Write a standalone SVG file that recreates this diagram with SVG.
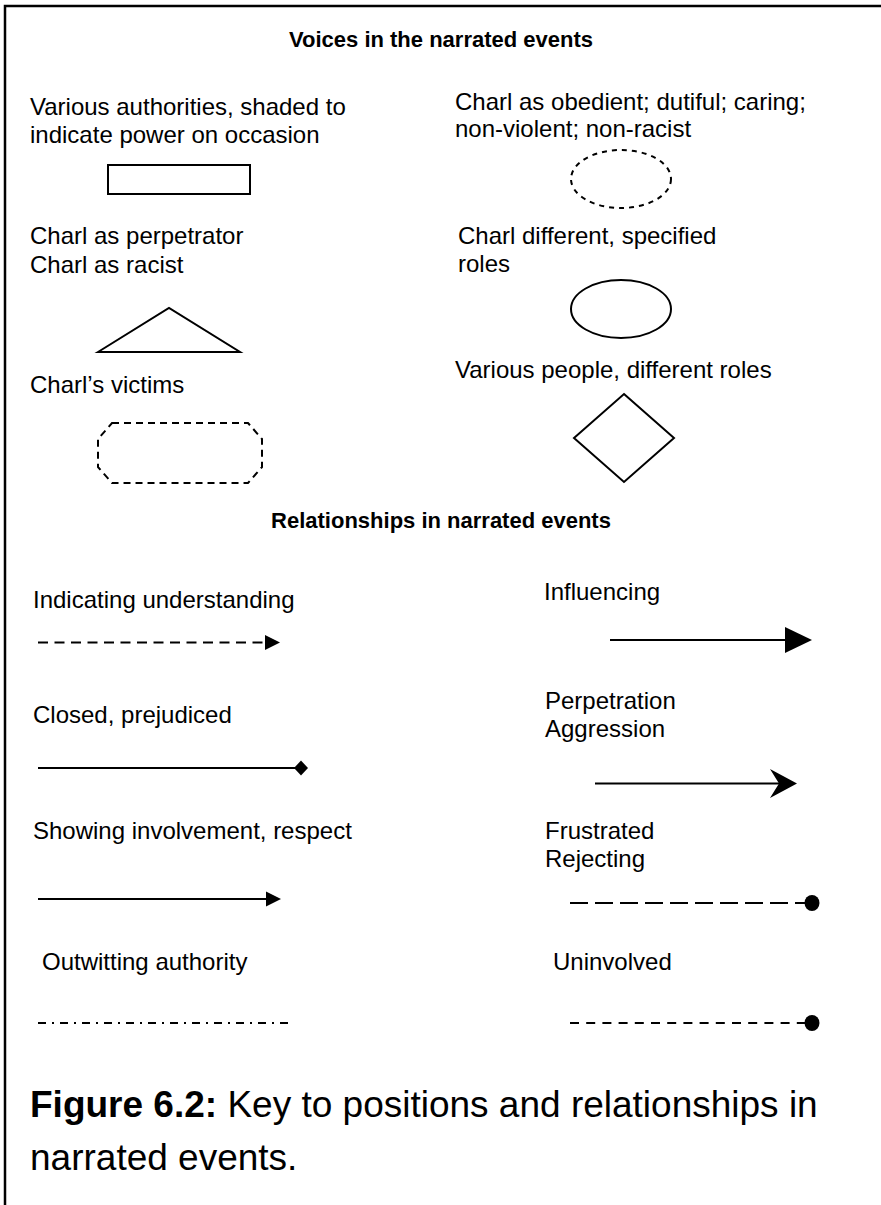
<svg xmlns="http://www.w3.org/2000/svg" width="881" height="1205" viewBox="0 0 881 1205">
<style>
text{font-family:"Liberation Sans",Arial,sans-serif;fill:#000}
.lbl{font-size:24px}
.hd{font-size:22px;font-weight:bold;text-anchor:middle}
.cap{font-size:37px}
.shape{fill:#fff;stroke:#000;stroke-width:2}
.ln{fill:none;stroke:#000;stroke-width:2.2}
</style>
<rect width="881" height="1205" fill="#fff"/>
<g id="frame">
<path d="M5,1205 V6 H881" fill="none" stroke="#000" stroke-width="2.5"/>
</g>
<g id="voices">
<text class="hd" x="441" y="47">Voices in the narrated events</text>
</g>
<g id="node-authorities">
<text class="lbl" x="30" y="115">Various authorities, shaded to</text>
<text class="lbl" x="30" y="143">indicate power on occasion</text>
<rect class="shape" x="108" y="165" width="142" height="29"/>
</g>
<g id="node-obedient">
<text class="lbl" x="455" y="110">Charl as obedient; dutiful; caring;</text>
<text class="lbl" x="455" y="137">non-violent; non-racist</text>
<ellipse class="shape" cx="621" cy="179" rx="50" ry="29" stroke-dasharray="5 5"/>
</g>
<g id="node-perpetrator">
<text class="lbl" x="30" y="244">Charl as perpetrator</text>
<text class="lbl" x="30" y="273">Charl as racist</text>
<polygon class="shape" points="98,352 169,308 240,352"/>
</g>
<g id="node-roles">
<text class="lbl" x="458" y="244">Charl different, specified</text>
<text class="lbl" x="458" y="272">roles</text>
<ellipse class="shape" cx="621" cy="309" rx="50" ry="29"/>
</g>
<g id="node-victims">
<text class="lbl" x="30" y="393">Charl’s victims</text>
<polygon class="shape" points="112,423 248,423 262,439 262,467 248,483 112,483 98,467 98,439" stroke-dasharray="7 5"/>
</g>
<g id="node-people">
<text class="lbl" x="455" y="378">Various people, different roles</text>
<polygon class="shape" points="624,394 674,438 624,482 574,438"/>
</g>
<g id="relationships">
<text class="hd" x="441" y="528">Relationships in narrated events</text>
</g>
<g id="labels">
<text class="lbl" x="33" y="608">Indicating understanding</text>
<text class="lbl" x="544" y="600">Influencing</text>
<text class="lbl" x="33" y="723">Closed, prejudiced</text>
<text class="lbl" x="545" y="709">Perpetration</text>
<text class="lbl" x="545" y="737">Aggression</text>
<text class="lbl" x="33" y="839">Showing involvement, respect</text>
<text class="lbl" x="545" y="839">Frustrated</text>
<text class="lbl" x="545" y="867">Rejecting</text>
<text class="lbl" x="42" y="970">Outwitting authority</text>
<text class="lbl" x="553" y="970">Uninvolved</text>
</g>
<g id="connectors">
<line class="ln" x1="38" y1="642.5" x2="265" y2="642.5" stroke-dasharray="10 6.5"/>
<polygon points="265,635 280,642.5 265,650" fill="#000"/>
<line class="ln" x1="610" y1="640" x2="787" y2="640" stroke-width="2.5"/>
<polygon points="785,627 812,640 785,653" fill="#000"/>
<line class="ln" x1="38" y1="768" x2="296" y2="768"/>
<polygon points="301,760.5 308,768 301,775.5 294,768" fill="#000"/>
<line class="ln" x1="595" y1="783.5" x2="788" y2="783.5" stroke-width="6"/>
<polygon points="770,769 797,783.5 770,798 779,783.5" fill="#000"/>
<line class="ln" x1="38" y1="899" x2="267" y2="899"/>
<polygon points="266,891.5 281,899 266,906.5" fill="#000"/>
<line class="ln" x1="570" y1="903" x2="805" y2="903" stroke-width="3" stroke-dasharray="18 7"/>
<ellipse cx="812" cy="903" rx="7.5" ry="8" fill="#000"/>
<line class="ln" x1="38" y1="1023" x2="288" y2="1023" stroke-dasharray="8 6 2 6"/>
<line class="ln" x1="570" y1="1023" x2="805" y2="1023" stroke-width="2.5" stroke-dasharray="9 7.2"/>
<ellipse cx="812" cy="1023" rx="7.5" ry="8" fill="#000"/>
</g>
<g id="caption">
<text class="cap" x="30" y="1117"><tspan font-weight="bold">Figure 6.2:</tspan> Key to positions and relationships in</text>
<text class="cap" x="30" y="1170">narrated events.</text>
</g>
</svg>
